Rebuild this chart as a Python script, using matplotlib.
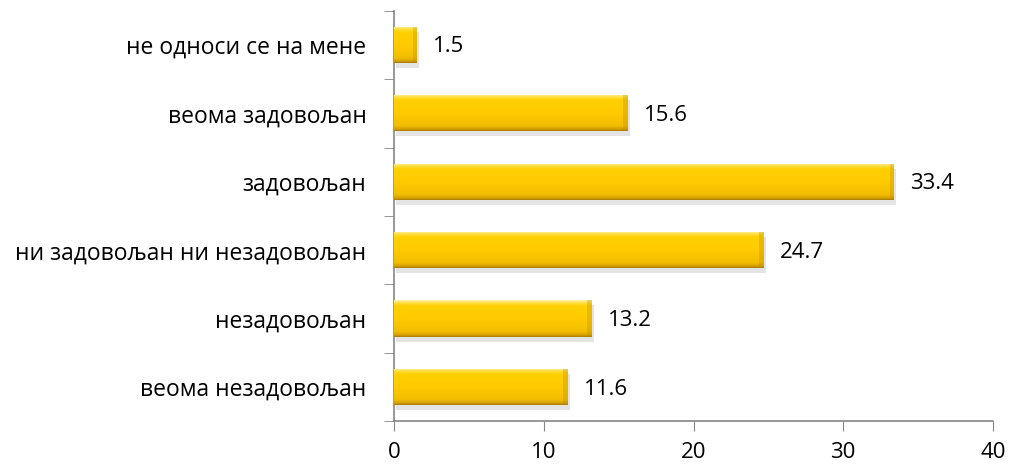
import numpy as np
import matplotlib
matplotlib.use('Agg')
import matplotlib.pyplot as plt
import matplotlib.transforms as mtransforms
from matplotlib.colors import LinearSegmentedColormap

plt.rcParams['font.family'] = ['Open Sans', 'DejaVu Sans']

# Data (bottom to top)
categories = ['веома незадовољан', 'незадовољан', 'ни задовољан ни незадовољан',
              'задовољан', 'веома задовољан', 'не односи се на мене']
values = [11.6, 13.2, 24.7, 33.4, 15.6, 1.5]
xticks = [0, 10, 20, 30, 40]

fig = plt.figure(figsize=(10.11, 4.66), dpi=100)
ax = fig.add_axes([0.39, 0.096, 0.592, 0.881])

y = np.arange(len(categories))
h = 0.53

# shadow, offset down-right
shadow_tr = mtransforms.offset_copy(ax.transData, fig=fig, x=2, y=-5, units='dots')
ax.barh(y, values, height=h, color='#cfcfcf', alpha=0.55, transform=shadow_tr, zorder=1)

# base bars
bars = ax.barh(y, values, height=h, color='#ffcc00', edgecolor='none', zorder=2)

# vertical gradient to mimic bevel
cmap = LinearSegmentedColormap.from_list('gold', [
    (0.0, '#a87a00'), (0.05, '#d29e00'), (0.14, '#f2bd00'), (0.5, '#ffcb00'),
    (0.84, '#ffd000'), (0.93, '#ffe04a'), (1.0, '#fff2b0')])
grad = np.linspace(0, 1, 256).reshape(-1, 1)
for b in bars:
    x0, y0 = b.get_x(), b.get_y()
    w, hh = b.get_width(), b.get_height()
    im = ax.imshow(grad, cmap=cmap, aspect='auto', origin='lower',
                   extent=[x0, x0 + w, y0, y0 + hh], zorder=3)
    im.set_clip_path(b)
    # darker right end
    ew = min(0.3, w * 0.15)
    ax.barh(b.get_y() + hh / 2, ew, left=x0 + w - ew,
            height=hh, color='#b88a00', alpha=0.3, edgecolor='none', zorder=4)

for yi, v in zip(y, values):
    ax.text(v + 1.1, yi - 0.03, f'{v:.1f}', va='center', ha='left', fontsize=16, color='black')

ax.set_xlim(0, 40)
ax.set_ylim(-0.5, len(categories) - 0.5)
ax.set_xticks(xticks)
ax.set_xticklabels([str(t) for t in xticks], fontsize=16)
ax.set_yticks(y)
ax.set_yticklabels(categories, fontsize=16.5)
ax.set_yticks(np.arange(-0.5, len(categories), 1), minor=True)
ax.tick_params(axis='y', which='major', length=0, pad=20)
ax.tick_params(axis='y', which='minor', length=7, color='#868686')
ax.tick_params(axis='x', length=7, color='#868686', pad=8)

for s in ['top', 'right']:
    ax.spines[s].set_visible(False)
for s in ['left', 'bottom']:
    ax.spines[s].set_color('#868686')
    ax.spines[s].set_linewidth(1.2)

fig.savefig('out.png', dpi=100)
